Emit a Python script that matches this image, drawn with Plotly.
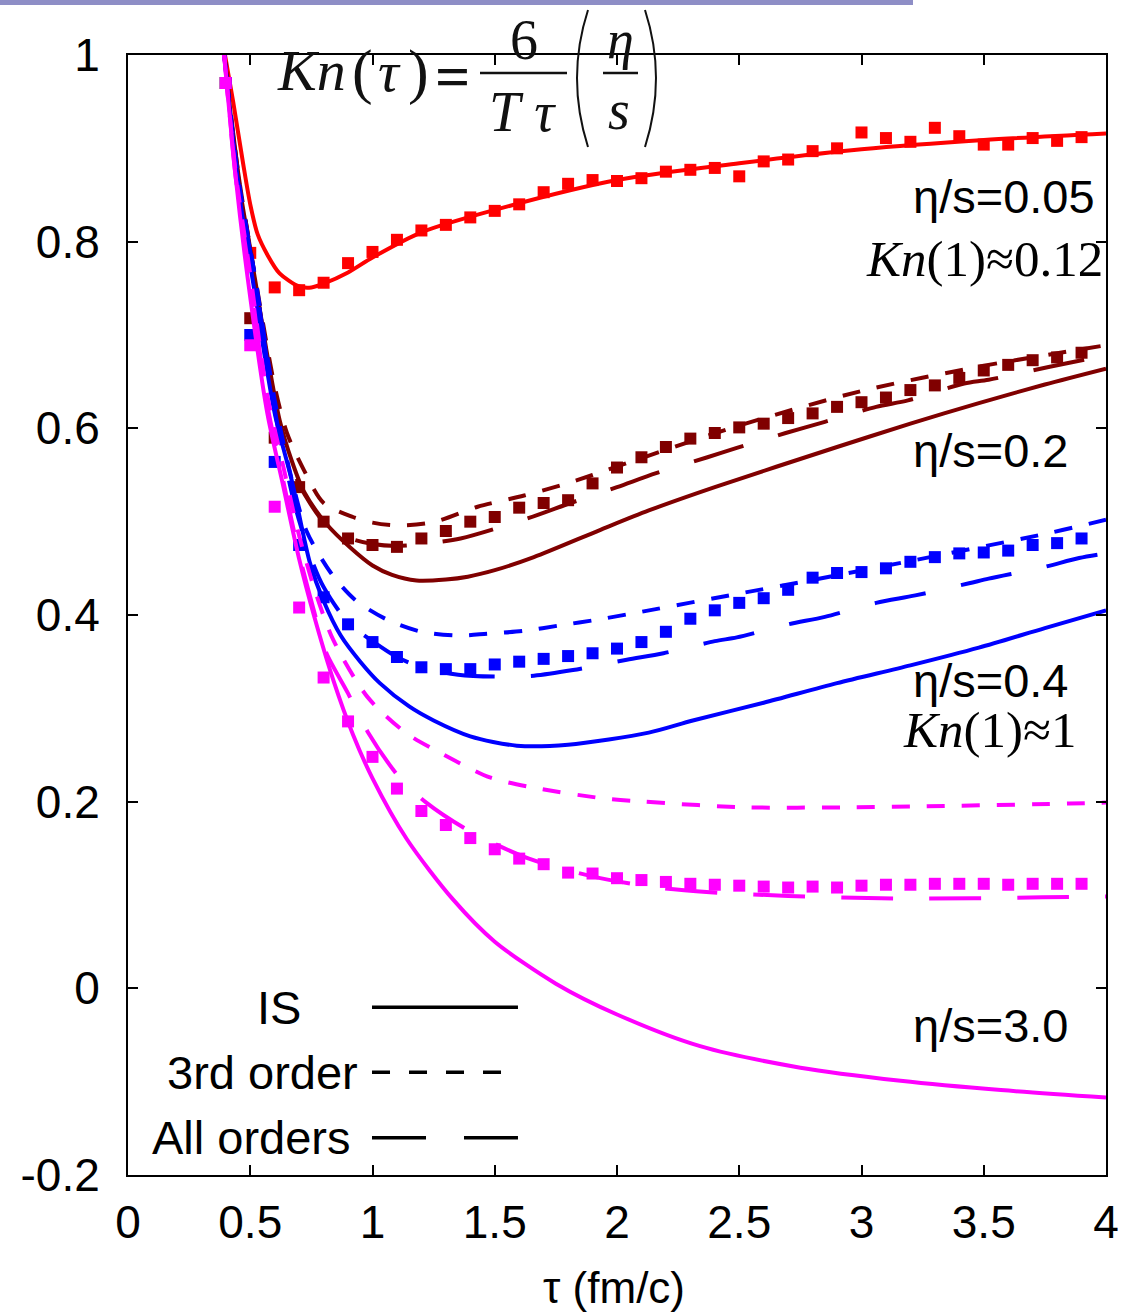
import plotly.graph_objects as go

# ---------------- data ----------------
# markers (kinetic-theory points), tau grid 0.4 ... 3.9
mk_tau = [round(0.4 + 0.1 * i, 1) for i in range(36)]
red_pts = [0.97, 0.788, 0.751, 0.748, 0.756, 0.777, 0.789, 0.802, 0.812, 0.818, 0.826, 0.833,
           0.840, 0.853, 0.862, 0.866, 0.865, 0.868, 0.875, 0.877, 0.879, 0.870, 0.886, 0.888,
           0.897, 0.900, 0.917, 0.911, 0.907, 0.922, 0.913, 0.904, 0.904, 0.911, 0.908, 0.912]
dred_pts = [0.97, 0.718, 0.59, 0.537, 0.50, 0.482, 0.475, 0.473, 0.482, 0.49, 0.50, 0.505,
            0.515, 0.52, 0.523, 0.541, 0.558, 0.569, 0.58, 0.589, 0.595, 0.601, 0.605, 0.611,
            0.616, 0.623, 0.628, 0.633, 0.641, 0.646, 0.654, 0.662, 0.668, 0.673, 0.676, 0.681]
blue_pts = [0.97, 0.70, 0.564, 0.475, 0.419, 0.39, 0.371, 0.355, 0.344, 0.342, 0.342, 0.347,
            0.35, 0.353, 0.356, 0.359, 0.364, 0.371, 0.382, 0.396, 0.405, 0.413, 0.418, 0.427,
            0.44, 0.445, 0.446, 0.45, 0.457, 0.462, 0.466, 0.467, 0.469, 0.475, 0.477, 0.482]
mag_pts = [0.97, 0.689, 0.516, 0.408, 0.333, 0.286, 0.248, 0.214, 0.19, 0.175, 0.161, 0.149,
           0.139, 0.133, 0.124, 0.123, 0.118, 0.116, 0.114, 0.112, 0.111, 0.110, 0.109, 0.108,
           0.109, 0.108, 0.110, 0.111, 0.111, 0.112, 0.112, 0.112, 0.111, 0.112, 0.112, 0.112]

# eta/s = 0.05 (IS, 3rd order and all orders coincide)
red_is_x = [0.39, 0.43, 0.47, 0.5, 0.53, 0.57, 0.62, 0.7, 0.75, 0.8, 0.9, 1.0, 1.2, 1.5, 2.0, 2.5,
            3.0, 3.5, 4.0]
red_is_y = [1.01, 0.95, 0.885, 0.84, 0.808, 0.786, 0.766, 0.752, 0.751, 0.755, 0.767, 0.783, 0.81,
            0.834, 0.866, 0.884, 0.899, 0.909, 0.916]

# eta/s = 0.2
dred_is_x = [0.39, 0.45, 0.52, 0.57, 0.62, 0.67, 0.72, 0.81, 0.91, 1.0, 1.08, 1.18, 1.3, 1.39,
             1.5, 1.66, 1.93, 2.13, 2.4, 2.9, 3.2, 3.48, 3.75, 4.0]
dred_is_y = [1.01, 0.87, 0.759, 0.678, 0.609, 0.565, 0.532, 0.498, 0.472, 0.453, 0.443, 0.437,
             0.438, 0.441, 0.448, 0.462, 0.491, 0.512, 0.537, 0.58, 0.605, 0.627, 0.647, 0.664]
dred_3rd_x = [0.39, 0.45, 0.52, 0.6, 0.65, 0.72, 0.8, 0.92, 1.0, 1.1, 1.25, 1.43, 1.62, 1.77, 1.9,
              2.11, 2.5, 3.0, 3.5, 4.0]
dred_3rd_y = [1.01, 0.875, 0.762, 0.645, 0.595, 0.555, 0.52, 0.505, 0.499, 0.496, 0.4995, 0.516,
              0.528, 0.539, 0.55, 0.569, 0.603, 0.64, 0.667, 0.689]
dred_all_x = [0.39, 0.45, 0.52, 0.6, 0.65, 0.7, 0.8, 0.9, 1.0, 1.1, 1.2, 1.36, 1.64, 1.81, 2.0,
              2.16, 2.37, 2.49, 2.69, 2.85, 3.06, 3.19, 3.42, 3.52, 3.77, 4.0]
dred_all_y = [1.01, 0.875, 0.76, 0.625, 0.575, 0.54, 0.50, 0.483, 0.476, 0.474, 0.476, 0.482,
              0.504, 0.52, 0.537, 0.552, 0.569, 0.579, 0.595, 0.607, 0.623, 0.63, 0.648, 0.652,
              0.666, 0.678]

# eta/s = 0.4
blue_is_x = [0.39, 0.45, 0.51, 0.6, 0.67, 0.745, 0.8, 0.87, 0.95, 1.03, 1.15, 1.25, 1.4, 1.59,
             1.8, 2.13, 2.31, 2.6, 2.9, 3.2, 3.48, 3.75, 4.0]
blue_is_y = [1.01, 0.86, 0.759, 0.616, 0.544, 0.455, 0.415, 0.378, 0.35, 0.327, 0.302, 0.287,
             0.27, 0.26, 0.261, 0.274, 0.287, 0.306, 0.327, 0.346, 0.365, 0.386, 0.405]
blue_3rd_x = [0.39, 0.45, 0.52, 0.6, 0.67, 0.73, 0.83, 0.93, 1.06, 1.2, 1.35, 1.47, 1.62, 1.77,
              1.92, 2.07, 2.5, 2.81, 3.28, 3.77, 4.0]
blue_3rd_y = [1.01, 0.87, 0.762, 0.63, 0.545, 0.49, 0.445, 0.416, 0.395, 0.382, 0.378, 0.38,
              0.383, 0.389, 0.395, 0.402, 0.423, 0.438, 0.462, 0.488, 0.502]
blue_all_x = [0.39, 0.45, 0.52, 0.6, 0.68, 0.75, 0.8, 0.9, 1.0, 1.1, 1.2, 1.35, 1.5, 1.66, 1.82,
              2.04, 2.19, 2.4, 2.49, 2.7, 2.85, 3.06, 3.22, 3.44, 3.52, 3.74, 3.89, 4.0]
blue_all_y = [1.01, 0.865, 0.76, 0.62, 0.52, 0.46, 0.43, 0.392, 0.372, 0.355, 0.344, 0.336, 0.334,
              0.335, 0.341, 0.352, 0.359, 0.372, 0.376, 0.39, 0.398, 0.413, 0.421, 0.434, 0.439,
              0.451, 0.461, 0.466]

# eta/s = 3.0
mag_is_x = [0.39, 0.44, 0.49, 0.57, 0.63, 0.7, 0.76, 0.84, 0.92, 1.0, 1.14, 1.33, 1.5, 1.75, 2.0,
            2.34, 2.75, 3.16, 3.57, 4.0]
mag_is_y = [1.01, 0.87, 0.76, 0.616, 0.544, 0.46, 0.40, 0.33, 0.272, 0.225, 0.16, 0.095, 0.05,
            0.005, -0.028, -0.062, -0.085, -0.099, -0.109, -0.117]
mag_3rd_x = [0.39, 0.44, 0.5, 0.57, 0.63, 0.7, 0.76, 0.84, 0.98, 1.14, 1.28, 1.48, 1.66, 1.93,
             2.11, 2.52, 2.97, 3.26, 3.85, 4.0]
mag_3rd_y = [1.01, 0.875, 0.765, 0.635, 0.565, 0.485, 0.43, 0.373, 0.312, 0.273, 0.252, 0.226,
             0.215, 0.204, 0.2, 0.194, 0.194, 0.195, 0.198, 0.199]
mag_all_x = [0.39, 0.44, 0.5, 0.57, 0.63, 0.7, 0.76, 0.81, 0.9, 0.98, 1.11, 1.22, 1.4, 1.64, 1.9,
             2.16, 2.38, 2.7, 3.08, 3.46, 3.74, 4.0]
mag_all_y = [1.01, 0.87, 0.76, 0.625, 0.55, 0.465, 0.405, 0.36, 0.316, 0.275, 0.226, 0.199, 0.168,
             0.139, 0.12, 0.108, 0.103, 0.099, 0.0965, 0.0965, 0.0975, 0.0985]

x_ticks = [0, 0.5, 1, 1.5, 2, 2.5, 3, 3.5, 4]
x_tick_text = ["0", "0.5", "1", "1.5", "2", "2.5", "3", "3.5", "4"]
y_ticks = [-0.2, 0, 0.2, 0.4, 0.6, 0.8, 1.0]
y_tick_text = ["-0.2", "0", "0.2", "0.4", "0.6", "0.8", "1"]

# ---------------- styles ----------------
RED, DRED, BLUE, MAG = "#ff0000", "#800000", "#0000ff", "#ff00ff"
SHORT = "18px,17px"
LONG = "52px,36px"
LW = 4
SANS = "Liberation Sans, Arial, Helvetica, sans-serif"
SERIF = "Liberation Serif, Times New Roman, serif"

fig = go.Figure()


def curve(x, y, color, dash):
    fig.add_trace(go.Scatter(x=x, y=y, mode="lines",
                             line=dict(color=color, width=LW, dash=dash, shape="spline", smoothing=0.8),
                             showlegend=False, hoverinfo="skip"))


def points(y, color):
    fig.add_trace(go.Scatter(x=mk_tau, y=y, mode="markers",
                             marker=dict(symbol="square", size=12, color=color, line=dict(width=0)),
                             showlegend=False, hoverinfo="skip"))


curve(red_is_x, red_is_y, RED, "solid")
points(red_pts, RED)

curve(dred_is_x, dred_is_y, DRED, "solid")
curve(dred_3rd_x, dred_3rd_y, DRED, SHORT)
curve(dred_all_x, dred_all_y, DRED, LONG)
points(dred_pts, DRED)

curve(blue_is_x, blue_is_y, BLUE, "solid")
curve(blue_3rd_x, blue_3rd_y, BLUE, SHORT)
curve(blue_all_x, blue_all_y, BLUE, LONG)
points(blue_pts, BLUE)

curve(mag_is_x, mag_is_y, MAG, "solid")
curve(mag_3rd_x, mag_3rd_y, MAG, SHORT)
curve(mag_all_x, mag_all_y, MAG, LONG)
points(mag_pts, MAG)

# ---------------- layout ----------------
L, R, T, B = 128, 33, 55, 138
W, H = 1139, 1313
PW, PH = W - L - R, H - T - B


def P(px, py):
    return (px - L) / PW, (H - B - py) / PH


annotations = []
shapes = []


def ptext(text, px, py, size, family=SERIF, xanchor="center"):
    x, y = P(px, py)
    annotations.append(dict(text=text, x=x, y=y, xref="paper", yref="paper", showarrow=False,
                            xanchor=xanchor, yanchor="middle",
                            font=dict(family=family, size=size, color="#111111")))


def dtext(text, x, y, size=47, family=SANS, xanchor="right"):
    annotations.append(dict(text=text, x=x, y=y, xref="x", yref="y", showarrow=False,
                            xanchor=xanchor, yanchor="middle",
                            font=dict(family=family, size=size, color="black")))


# curve labels
dtext("η/s=0.05", 3.963, 0.848)
dtext("<i>Kn</i>(1)≈0.12", 3.995, 0.781, size=51, family=SERIF)
dtext("η/s=0.2", 3.853, 0.576)
dtext("η/s=0.4", 3.853, 0.330)
dtext("<i>Kn</i>(1)≈1", 3.89, 0.2765, size=51, family=SERIF)
dtext("η/s=3.0", 3.853, -0.0396)

# legend (text + line samples)
LEG_W = 3.5
dtext("IS", 0.716, -0.0204)
dtext("3rd order", 0.949, -0.090)
dtext("All orders", 0.920, -0.160)
shapes.append(dict(type="line", xref="x", yref="y", x0=0.998, x1=1.595, y0=-0.0204, y1=-0.0204,
                   line=dict(color="black", width=LEG_W)))
shapes.append(dict(type="line", xref="x", yref="y", x0=0.998, x1=1.53, y0=-0.090, y1=-0.090,
                   line=dict(color="black", width=LEG_W, dash="18px,19px")))
shapes.append(dict(type="line", xref="x", yref="y", x0=0.998, x1=1.595, y0=-0.160, y1=-0.160,
                   line=dict(color="black", width=LEG_W, dash="54px,38px")))

# formula Kn(tau) = 6/(T tau) (eta/s)
ptext("<i>Kn</i>", 311, 71, 58)
ptext("(", 362, 72, 62)
ptext("<i>τ</i>", 389, 72, 58)
ptext(")", 418, 72, 62)
ptext("<b>=</b>", 452, 76, 62)
ptext("6", 524, 40, 56)
ptext("<i>T</i> <i>τ</i>", 522, 112, 56)
ptext("<i>η</i>", 620, 40, 54)
ptext("<i>s</i>", 619, 110, 56)
fx0, fy = P(480, 73)
fx1, _ = P(567, 73)
shapes.append(dict(type="line", xref="paper", yref="paper", x0=fx0, x1=fx1, y0=fy, y1=fy,
                   line=dict(color="#111111", width=2.5)))
ex0, _ = P(603, 73)
ex1, _ = P(638, 73)
shapes.append(dict(type="line", xref="paper", yref="paper", x0=ex0, x1=ex1, y0=fy, y1=fy,
                   line=dict(color="#111111", width=2.5)))


def paren(px_end, px_ctrl):
    a = P(px_end, 10)
    c = P(px_ctrl, 78)
    b = P(px_end, 147)
    return dict(type="path", xref="paper", yref="paper",
                path=f"M {a[0]},{a[1]} Q {c[0]},{c[1]} {b[0]},{b[1]}",
                line=dict(color="#111111", width=2))


shapes.append(paren(588, 566))
shapes.append(paren(645, 667))

# lavender bar at the very top
bx0, by0 = P(0, 5)
bx1, by1 = P(913, 0)
shapes.append(dict(type="rect", xref="paper", yref="paper", x0=bx0, x1=bx1, y0=by0, y1=by1,
                   fillcolor="#8e8ec6", line=dict(width=0), layer="above"))

# x-axis title
tx, ty = P(614, 1287)
annotations.append(dict(text="τ (fm/c)", x=tx, y=ty, xref="paper", yref="paper", showarrow=False,
                        xanchor="center", yanchor="middle", font=dict(family=SANS, size=44, color="black")))

axis_common = dict(showline=True, linecolor="black", linewidth=2, mirror="ticks", ticks="inside",
                   ticklen=10, tickwidth=2, tickcolor="black", showgrid=False, zeroline=False,
                   tickfont=dict(family=SANS, size=46, color="black"))

fig.update_layout(
    width=W, height=H,
    margin=dict(l=L, r=R, t=T, b=B, pad=0),
    paper_bgcolor="white", plot_bgcolor="white",
    showlegend=False,
    xaxis=dict(range=[0, 4], tickvals=x_ticks, ticktext=x_tick_text, ticklabelstandoff=6,
               **axis_common),
    yaxis=dict(range=[-0.2, 1.0], tickvals=y_ticks, ticktext=y_tick_text, ticklabelstandoff=17,
               **axis_common),
    annotations=annotations,
    shapes=shapes,
)

fig.write_html("out.html")
